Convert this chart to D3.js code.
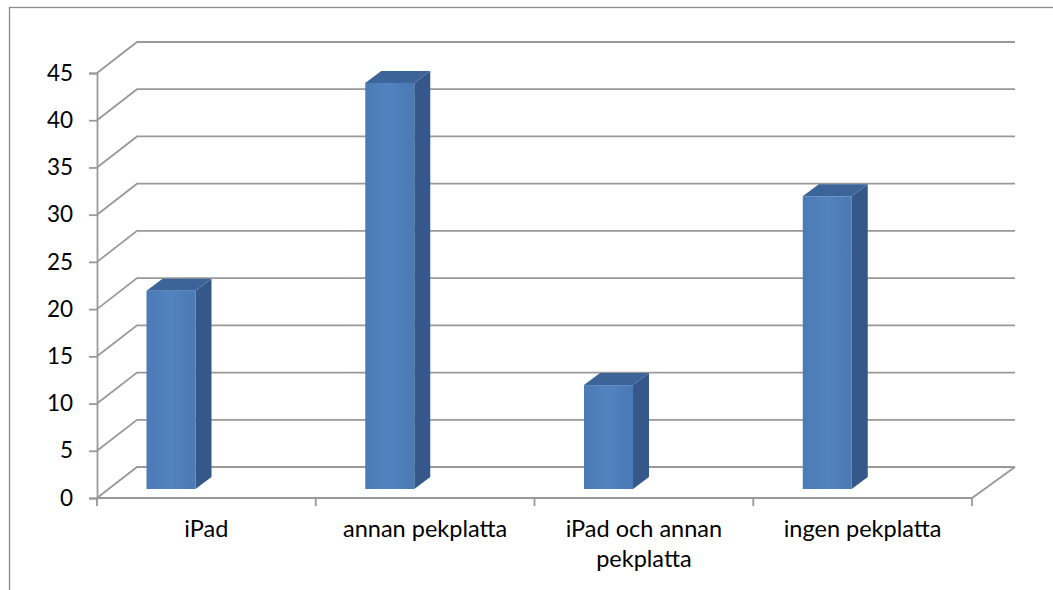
<!DOCTYPE html>
<html>
<head>
<meta charset="utf-8">
<script src="https://cdn.jsdelivr.net/npm/d3@7"></script>
<style>
  body { margin: 0; background: #fff; }
  svg { display: block; font-family: Lato, "Open Sans", sans-serif; }
</style>
</head>
<body>
<div id="stage"></div>
<script>
// data
var categories = ["iPad", "annan pekplatta", "iPad och annan pekplatta", "ingen pekplatta"];
var labelLines = [["iPad"], ["annan pekplatta"], ["iPad och annan", "pekplatta"], ["ingen pekplatta"]];
var values = [21, 43, 11, 31];
var yTicks = [0, 5, 10, 15, 20, 25, 30, 35, 40, 45];

var W = 1053, H = 590;
var depthX = 40, depthY = -31;   // depth of the wall / floor
var barOffY = -9;                // bar sits a bit behind the front edge
var barDX = 16, barDY = -12;     // bar's own depth

var svg = d3.select("#stage").append("svg")
  .attr("width", W).attr("height", H);

// outer frame (cut by the picture on right and bottom)
svg.append("rect")
  .attr("x", 9.5).attr("y", 7.5)
  .attr("width", W + 20).attr("height", H + 20)
  .attr("fill", "none").attr("stroke", "#8c8c8c").attr("stroke-width", 1.3);

var x = d3.scaleBand().domain(categories).range([97, 972]);
var y = d3.scaleLinear().domain([0, 45]).range([498, 73]);

var grid = svg.append("g").attr("stroke", "#999").attr("stroke-width", 1.8).attr("fill", "none");

// back wall lines + left wall diagonals
yTicks.forEach(function(v){
  grid.append("path")
    .attr("d", "M" + x.range()[0] + "," + y(v) +
               "L" + (x.range()[0] + depthX) + "," + (y(v) + depthY) +
               "L" + (x.range()[1] + depthX + 3) + "," + (y(v) + depthY));
});

// floor front edge and right diagonal
grid.append("path")
  .attr("d", "M" + x.range()[0] + "," + y(0) +
             "L" + x.range()[1] + "," + y(0) +
             "L" + (x.range()[1] + depthX + 3) + "," + (y(0) + depthY));

// y axis
var yAxis = d3.axisLeft(y).tickValues(yTicks).tickSize(8).tickPadding(16);
var gY = svg.append("g")
  .attr("transform", "translate(" + x.range()[0] + ",0)")
  .call(yAxis);
gY.select(".domain").attr("stroke", "#999").attr("stroke-width", 1.8);
gY.selectAll(".tick line").attr("stroke", "#999").attr("stroke-width", 1.8);
gY.selectAll(".tick text").attr("font-size", 22.5).attr("fill", "#000")
  .attr("font-family", "Lato, sans-serif");

// x axis tick marks at category borders
var borders = categories.map(function(c){ return x(c); }).concat([x.range()[1]]);
svg.append("g").selectAll("line").data(borders).enter().append("line")
  .attr("x1", function(d){ return d; }).attr("x2", function(d){ return d; })
  .attr("y1", y(0)).attr("y2", y(0) + 8)
  .attr("stroke", "#999").attr("stroke-width", 1.8);

// x labels
var lab = svg.append("g").selectAll("text").data(categories).enter().append("text")
  .attr("x", function(d){ return x(d) + x.bandwidth() / 2; })
  .attr("y", 537)
  .attr("text-anchor", "middle")
  .attr("font-size", 23.5)
  .attr("fill", "#000");
lab.each(function(d, i){
  var t = d3.select(this);
  labelLines[i].forEach(function(s, j){
    t.append("tspan").attr("x", x(d) + x.bandwidth() / 2).attr("dy", j === 0 ? 0 : 30).text(s);
  });
});

// bar gradient
var defs = svg.append("defs");
var grad = defs.append("linearGradient").attr("id", "front").attr("x1", "0").attr("x2", "1").attr("y1", "0").attr("y2", "0");
grad.append("stop").attr("offset", "0%").attr("stop-color", "#4b7bb6");
grad.append("stop").attr("offset", "50%").attr("stop-color", "#5283c0");
grad.append("stop").attr("offset", "100%").attr("stop-color", "#4a79b3");

// bars
var bw = 49;
var bars = svg.append("g").selectAll("g").data(values).enter().append("g");

bars.each(function(v, i){
  var g = d3.select(this);
  var x0 = x(categories[i]) + 49.5;
  var x1 = x0 + bw;
  var yb = y(0) + barOffY;
  var yt = y(v) + barOffY;
  // side
  g.append("path")
    .attr("d", "M" + x1 + "," + yb + "L" + x1 + "," + yt +
               "L" + (x1 + barDX) + "," + (yt + barDY) +
               "L" + (x1 + barDX) + "," + (yb + barDY) + "Z")
    .attr("fill", "#35578a");
  // top
  g.append("path")
    .attr("d", "M" + x0 + "," + yt + "L" + x1 + "," + yt +
               "L" + (x1 + barDX) + "," + (yt + barDY) +
               "L" + (x0 + barDX) + "," + (yt + barDY) + "Z")
    .attr("fill", "#3d6498");
  // front
  g.append("rect")
    .attr("x", x0).attr("y", yt)
    .attr("width", bw).attr("height", yb - yt)
    .attr("fill", "url(#front)");
});
</script>
</body>
</html>
